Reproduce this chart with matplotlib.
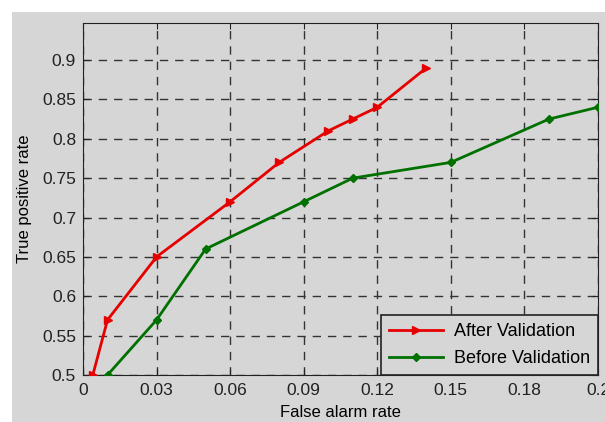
import matplotlib
matplotlib.use("Agg")
import matplotlib.pyplot as plt
from matplotlib.patches import Rectangle

after_x = [0.004, 0.01, 0.03, 0.06, 0.08, 0.10, 0.11, 0.12, 0.14]
after_y = [0.50, 0.57, 0.65, 0.72, 0.77, 0.81, 0.825, 0.84, 0.89]
before_x = [0.01, 0.03, 0.05, 0.09, 0.11, 0.15, 0.19, 0.21]
before_y = [0.50, 0.57, 0.66, 0.72, 0.75, 0.77, 0.825, 0.84]
x_ticks = [0, 0.03, 0.06, 0.09, 0.12, 0.15, 0.18, 0.21]
x_tick_labels = ["0", "0.03", "0.06", "0.09", "0.12", "0.15", "0.18", "0.2"]
y_ticks = [0.5, 0.55, 0.6, 0.65, 0.7, 0.75, 0.8, 0.85, 0.9]
y_tick_labels = ["0.5", "0.55", "0.6", "0.65", "0.7", "0.75", "0.8", "0.85", "0.9"]

gray = "#d6d6d6"
plt.rcParams["font.family"] = ["Liberation Sans", "DejaVu Sans"]

fig = plt.figure(figsize=(6.05, 4.22), dpi=100, facecolor="white")
fig.patches.append(Rectangle((12 / 605, 0), 1, 1 - 12 / 422, transform=fig.transFigure,
                             facecolor=gray, edgecolor="none", zorder=-10))
ax = fig.add_axes([83 / 605, 47 / 422, 515 / 605, 352.4 / 422])
ax.set_zorder(1)
ax.set_facecolor(gray)

ax.plot(after_x, after_y, color="#e60000", lw=2, marker=">", ms=6, label="After Validation", zorder=3)
ax.plot(before_x, before_y, color="#007000", lw=2, marker="D", ms=4.5, label="Before Validation", zorder=3)

ax.set_xlim(0, 0.21)
ax.set_ylim(0.5, 0.9475)
ax.set_xticks(x_ticks)
ax.set_xticklabels(x_tick_labels)
ax.set_yticks(y_ticks)
ax.set_yticklabels(y_tick_labels)
ax.tick_params(direction="in", top=True, right=True, labelsize=12.5, length=4, colors="#222222")
ax.tick_params(axis="x", pad=6)
ax.tick_params(axis="y", pad=5)
ax.grid(True, color="#333333", linestyle=(0, (6, 5)), linewidth=1)
for spine in ax.spines.values():
    spine.set_color("#222222")

ax.set_xlabel("False alarm rate", fontsize=12, labelpad=5)
ax.set_ylabel("True positive rate", fontsize=12, labelpad=7)

leg = ax.legend(loc="lower right", borderaxespad=0, fancybox=False, framealpha=1,
                facecolor=gray, edgecolor="#222222", fontsize=13, handlelength=3.0,
                borderpad=0.45, labelspacing=0.55, handletextpad=0.6)
leg.get_frame().set_linewidth(1.2)

fig.savefig("out.png", dpi=100, facecolor="white")
